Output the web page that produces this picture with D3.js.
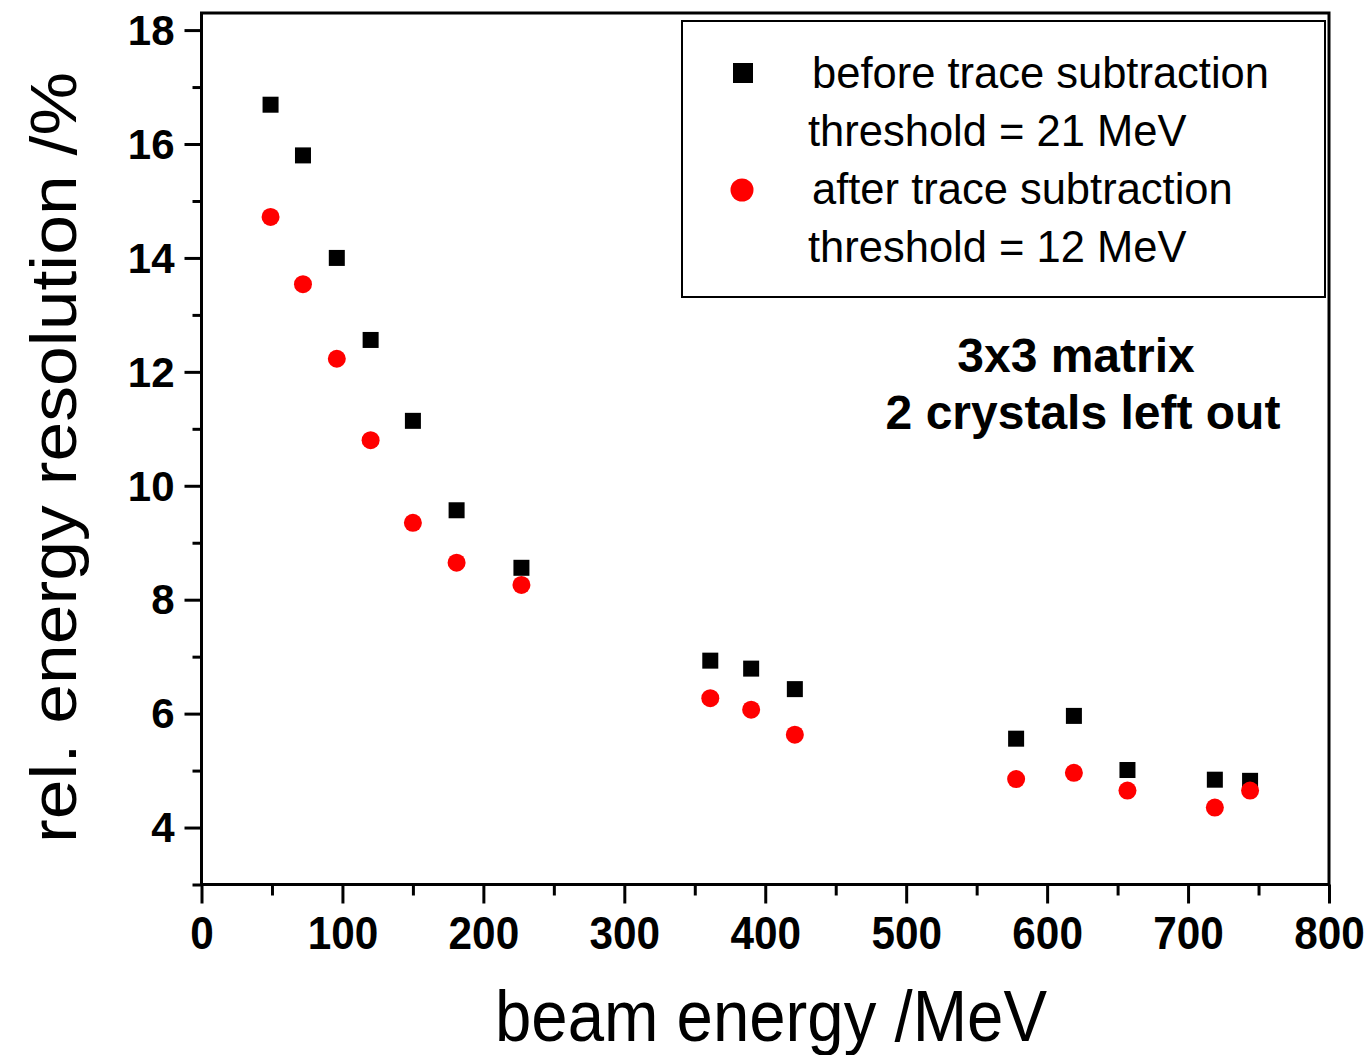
<!DOCTYPE html>
<html>
<head>
<meta charset="utf-8">
<script src="https://cdn.jsdelivr.net/npm/d3@7"></script>
<style>
    body { margin: 0; background: #fff; }
    svg { display: block; font-family: "Liberation Sans", Arial, sans-serif; }
</style>
</head>
<body>
<svg id="chart"></svg>
<script>
// beam energies (MeV) and relative energy resolution (%)
var energies = [49, 72, 96, 120, 150, 181, 227, 361, 390, 421, 578, 619, 657, 719, 744];
var resBefore = [16.69, 15.80, 14.00, 12.56, 11.14, 9.57, 8.56, 6.93, 6.79, 6.43, 5.56, 5.96, 5.01, 4.84, 4.82];
var resAfter = [14.72, 13.54, 12.23, 10.80, 9.35, 8.65, 8.26, 6.27, 6.07, 5.63, 4.85, 4.96, 4.65, 4.35, 4.65];

var xTicks = [0, 100, 200, 300, 400, 500, 600, 700, 800];
var xMinorTicks = [50, 150, 250, 350, 450, 550, 650, 750];
var yTicks = [4, 6, 8, 10, 12, 14, 16, 18];
var yMinorTicks = [3, 5, 7, 9, 11, 13, 15, 17];

var legendLabels = ['before trace subtraction', 'threshold = 21 MeV', 'after trace subtraction', 'threshold = 12 MeV'];
var noteLines = ['3x3 matrix', '2 crystals left out'];

function generateScatter(parameters) {
    var svg = d3.select(parameters.element),
        width = parameters.width,
        height = parameters.height,
        left = 201.5, right = 1329,
        top = 13, bottom = 884.5;

    svg.attr('width', width).attr('height', height);

    var x = d3.scaleLinear().domain([0, 800]).range([left, right]);
    var y = d3.scaleLinear().domain([3, 18.3]).range([bottom, top]);

    var beforeData = energies.map(function (e, i) { return { e: e, v: resBefore[i] }; });
    var afterData = energies.map(function (e, i) { return { e: e, v: resAfter[i] }; });

    // x axis, major + minor
    var xAxis = svg.append('g')
        .attr('transform', 'translate(0,' + bottom + ')')
        .call(d3.axisBottom(x).tickValues(xTicks).tickSize(19).tickSizeOuter(0).tickPadding(13));
    svg.append('g')
        .attr('transform', 'translate(0,' + bottom + ')')
        .call(d3.axisBottom(x).tickValues(xMinorTicks).tickSize(11).tickFormat(''))
        .select('.domain').remove();

    xAxis.selectAll('text')
        .attr('fill', '#000')
        .style('font-size', '46px')
        .style('font-weight', 'bold')
        .attr('transform', 'scale(0.92,1)');

    // y axis, major + minor
    var yAxis = svg.append('g')
        .attr('transform', 'translate(' + left + ',0)')
        .call(d3.axisLeft(y).tickValues(yTicks).tickSize(17).tickSizeOuter(0).tickPadding(10));
    svg.append('g')
        .attr('transform', 'translate(' + left + ',0)')
        .call(d3.axisLeft(y).tickValues(yMinorTicks).tickSize(9).tickFormat(''))
        .select('.domain').remove();

    yAxis.selectAll('text')
        .attr('fill', '#000')
        .attr('dy', '0.34em')
        .style('font-size', '42px')
        .style('font-weight', 'bold');

    svg.selectAll('.domain').remove();
    svg.selectAll('.tick line').attr('stroke', '#000').attr('stroke-width', 3);

    // frame
    svg.append('rect')
        .attr('x', left)
        .attr('y', top)
        .attr('width', right - left)
        .attr('height', bottom - top)
        .attr('fill', 'none')
        .attr('stroke', '#000')
        .attr('stroke-width', 3);

    // axis titles
    svg.append('text')
        .attr('x', 495)
        .attr('y', 1041)
        .attr('textLength', 552)
        .attr('lengthAdjust', 'spacingAndGlyphs')
        .style('font-size', '72px')
        .text('beam energy /MeV');

    svg.append('text')
        .attr('transform', 'translate(76,843) rotate(-90)')
        .attr('textLength', 771)
        .attr('lengthAdjust', 'spacingAndGlyphs')
        .style('font-size', '64px')
        .text('rel. energy resolution /%');

    // data marks
    svg.selectAll('.before')
        .data(beforeData)
        .enter().append('rect')
        .attr('class', 'before')
        .attr('x', function (d) { return x(d.e) - 8; })
        .attr('y', function (d) { return y(d.v) - 8; })
        .attr('width', 16)
        .attr('height', 16)
        .attr('fill', '#000');

    svg.selectAll('.after')
        .data(afterData)
        .enter().append('circle')
        .attr('class', 'after')
        .attr('cx', function (d) { return x(d.e); })
        .attr('cy', function (d) { return y(d.v); })
        .attr('r', 9)
        .attr('fill', '#ff0000');

    // legend
    var legend = svg.append('g');
    legend.append('rect')
        .attr('x', 682)
        .attr('y', 21)
        .attr('width', 643)
        .attr('height', 276)
        .attr('fill', '#fff')
        .attr('stroke', '#000')
        .attr('stroke-width', 2);
    legend.append('rect')
        .attr('x', 733).attr('y', 63)
        .attr('width', 20).attr('height', 20)
        .attr('fill', '#000');
    legend.append('circle')
        .attr('cx', 742).attr('cy', 190)
        .attr('r', 11.5)
        .attr('fill', '#ff0000');

    var legendPos = [[812, 88], [808, 146], [812, 204], [808, 262]];
    legend.selectAll('.legend-text')
        .data(legendLabels)
        .enter().append('text')
        .attr('class', 'legend-text')
        .attr('x', function (d, i) { return legendPos[i][0]; })
        .attr('y', function (d, i) { return legendPos[i][1]; })
        .style('font-size', '43.5px')
        .text(function (d) { return d; });

    // note
    svg.selectAll('.note')
        .data(noteLines)
        .enter().append('text')
        .attr('class', 'note')
        .attr('x', function (d, i) { return i === 0 ? 1076 : 1083; })
        .attr('y', function (d, i) { return i === 0 ? 372 : 429; })
        .attr('text-anchor', 'middle')
        .style('font-size', '48px')
        .style('font-weight', 'bold')
        .text(function (d) { return d; });
}

generateScatter({
    element: '#chart',
    width: 1370,
    height: 1055
});
</script>
</body>
</html>
